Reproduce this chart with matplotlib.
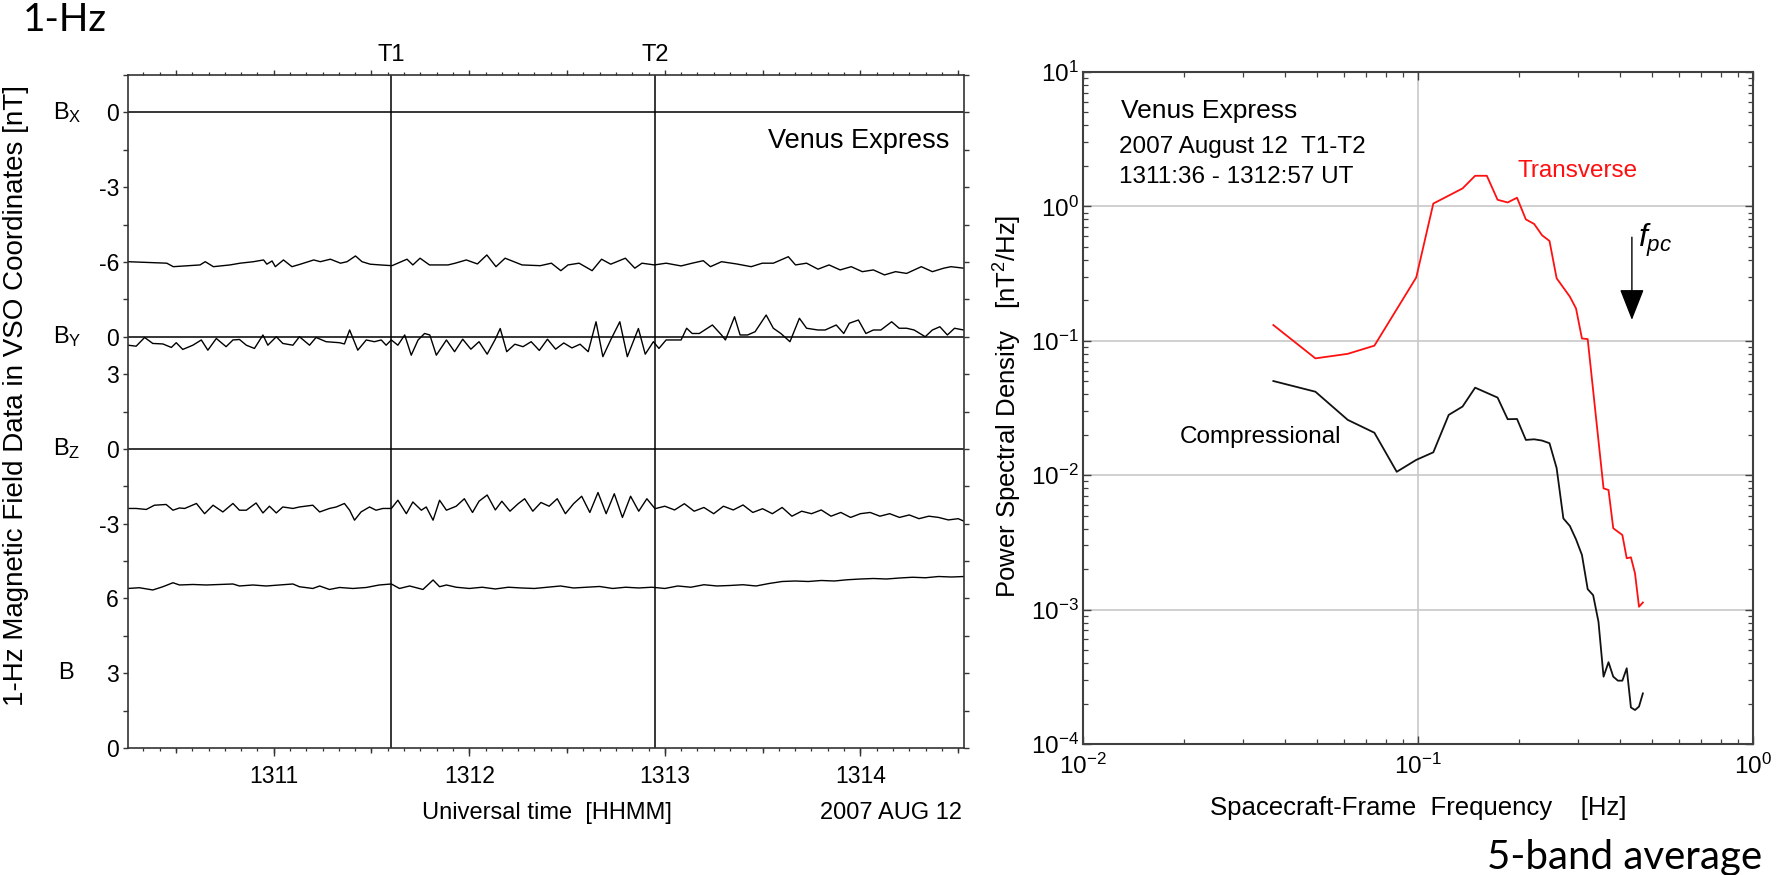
import numpy as np
import matplotlib
matplotlib.use("Agg")
import matplotlib.pyplot as plt
from matplotlib.ticker import MultipleLocator, FixedLocator, FixedFormatter, NullFormatter, LogLocator

plt.rcParams['font.family'] = ['Liberation Sans', 'DejaVu Sans']
plt.rcParams['mathtext.fontset'] = 'custom'
plt.rcParams['mathtext.rm'] = 'Liberation Sans'
plt.rcParams['mathtext.it'] = 'Liberation Sans:italic'
plt.rcParams['mathtext.default'] = 'regular'

# ---------------- data (time in seconds after 13:10:00 UT) ----------------
T1_SEC = 96.0     # 1311:36
T2_SEC = 177.0    # 1312:57
TIME_LIM = (15.3, 271.8)
time_ticks = [60, 120, 180, 240]
time_labels = ["1311", "1312", "1313", "1314"]

bx_pts = [(15.3,-5.99),(27.2,-6.05),(29.2,-6.19),(37.4,-6.12),(39.0,-5.99),(41.5,-6.19),(46.6,-6.12),
          (49.7,-6.05),(53.8,-5.99),(56.9,-5.92),(57.9,-6.09),(59.5,-5.96),(60.5,-6.19),(63.0,-5.92),
          (65.6,-6.19),(68.2,-6.09),(72.3,-5.92),(74.3,-5.99),(77.4,-5.89),(80.5,-6.05),(82.5,-5.99),
          (85.1,-5.76),(87.1,-5.99),(89.6,-6.09),(92.7,-6.12),(96.3,-6.15),(100.9,-5.89),(102.7,-6.12),
          (104.9,-5.85),(107.8,-6.12),(113.5,-6.12),(115.7,-6.05),(119.1,-5.92),(122.5,-6.08),
          (125.4,-5.72),(128.2,-6.19),(131.0,-5.85),(136.2,-6.12),(141.8,-6.15),(145.2,-6.05),
          (148.1,-6.35),(150.3,-6.12),(153.7,-6.05),(157.7,-6.35),(160.6,-5.89),(163.4,-6.09),
          (167.9,-5.85),(170.8,-6.25),(173.0,-6.05),(176.8,-6.12),(180.4,-6.05),(185.0,-6.16),
          (188.4,-6.05),(191.8,-5.95),(194.0,-6.19),(197.4,-5.99),(202.0,-6.08),(206.5,-6.19),
          (209.9,-6.05),(213.3,-6.05),(217.9,-5.79),(220.1,-6.12),(223.5,-6.05),(227.0,-6.29),
          (230.4,-6.12),(233.8,-6.32),(237.2,-6.19),(240.6,-6.39),(244.0,-6.32),(247.4,-6.52),
          (250.8,-6.39),(254.2,-6.46),(258.7,-6.19),(262.1,-6.39),(265.6,-6.25),(267.8,-6.19),(271.7,-6.25)]

by_pts = [(15.3,-0.34),(17.8,-0.38),(20.4,-0.03),(22.9,-0.27),(26.0,-0.29),(28.6,-0.43),(30.1,-0.24),
          (32.1,-0.51),(35.2,-0.34),(37.8,-0.13),(39.8,-0.54),(42.4,-0.07),(45.4,-0.40),(47.5,-0.13),
          (49.5,-0.11),(51.6,-0.34),(54.1,-0.47),(56.7,0.07),(58.2,-0.34),(60.8,0.0),(62.8,-0.27),
          (65.9,-0.34),(67.9,0.0),(71.0,-0.34),(73.0,-0.03),(76.1,-0.20),(80.2,-0.24),(81.7,-0.29),
          (83.3,0.27),(85.8,-0.54),(88.4,-0.13),(90.9,-0.20),(93.0,-0.13),(94.5,-0.34),(96.1,-0.13),
          (98.1,-0.34),(100.2,0.07),(102.2,-0.74),(104.3,-0.13),(106.3,0.13),(107.9,0.07),(109.9,-0.74),
          (113.0,-0.13),(115.5,-0.6),(118.0,-0.1),(120.5,-0.5),(123.0,-0.2),(125.5,-0.7),(128.0,-0.1),
          (129.5,0.33),(131.5,-0.6),(134.0,-0.3),(136.5,-0.4),(139.0,-0.2),(141.5,-0.55),(144.0,-0.1),
          (146.5,-0.5),(149.0,-0.25),(151.5,-0.45),(154.0,-0.3),(156.5,-0.6),(158.9,0.6),(161.0,-0.8),
          (163.5,-0.1),(166.2,0.6),(168.5,-0.8),(171.9,0.33),(174.0,-0.7),(176.5,-0.2),(178.2,-0.47),
          (180.4,-0.13),(185.0,-0.13),(186.7,0.34),(188.4,0.13),(190.6,0.13),(194.6,0.47),(197.4,0.07),
          (198.6,-0.13),(201.4,0.80),(203.1,0.07),(205.4,0.07),(207.7,0.20),(211.1,0.87),(213.3,0.34),
          (215.6,0.13),(218.4,-0.20),(221.3,0.74),(223.5,0.34),(227.0,0.27),(229.2,0.27),(232.6,0.47),
          (234.9,0.13),(236.6,0.54),(239.4,0.67),(241.7,0.13),(244.0,0.27),(246.3,0.27),(249.6,0.60),
          (251.9,0.34),(254.2,0.34),(256.5,0.27),(259.9,0.0),(262.1,0.27),(264.4,0.40),(266.7,0.07),
          (268.9,0.34),(271.7,0.27)]

bz_pts = [(15.3,-2.39),(17.8,-2.39),(20.9,-2.43),(23.4,-2.26),(27.0,-2.23),(29.1,-2.46),(31.1,-2.37),
          (32.7,-2.39),(36.3,-2.19),(38.8,-2.60),(41.4,-2.26),(44.4,-2.53),(47.5,-2.19),(49.5,-2.46),
          (51.6,-2.46),(54.6,-2.17),(56.7,-2.57),(58.7,-2.30),(60.8,-2.57),(62.8,-2.33),(65.9,-2.39),
          (67.9,-2.33),(72.0,-2.26),(74.1,-2.53),(77.1,-2.39),(79.2,-2.33),(81.7,-2.19),(83.3,-2.46),
          (84.8,-2.86),(86.8,-2.53),(89.4,-2.33),(91.4,-2.46),(93.5,-2.39),(96.1,-2.39),(98.1,-2.06),
          (100.7,-2.60),(102.7,-2.13),(105.3,-2.46),(106.8,-2.33),(108.9,-2.86),(110.9,-2.06),(113.0,-2.46),
          (116.0,-2.3),(118.5,-2.0),(121.0,-2.55),(123.0,-2.1),(125.5,-1.85),(128.0,-2.45),(130.0,-2.1),
          (132.5,-2.5),(135.0,-2.2),(137.0,-2.0),(139.5,-2.5),(142.0,-2.15),(144.5,-2.3),(147.0,-2.0),
          (149.5,-2.6),(152.0,-2.2),(154.5,-1.9),(157.0,-2.55),(159.5,-1.75),(162.0,-2.6),(164.5,-1.8),
          (167.0,-2.75),(169.5,-1.9),(172.0,-2.5),(174.5,-2.0),(177.0,-2.4),(180.0,-2.3),(183.0,-2.45),
          (186.0,-2.2),(189.0,-2.5),(192.0,-2.35),(195.0,-2.6),(198.0,-2.3),(201.0,-2.45),(204.0,-2.25),
          (207.0,-2.55),(210.0,-2.4),(213.0,-2.6),(216.0,-2.35),(219.0,-2.7),(222.0,-2.5),(225.0,-2.6),
          (228.0,-2.45),(231.0,-2.7),(234.0,-2.55),(237.0,-2.75),(240.0,-2.6),(243.0,-2.55),(246.0,-2.7),
          (249.0,-2.6),(252.0,-2.75),(255.0,-2.65),(258.0,-2.8),(261.0,-2.7),(264.0,-2.75),(267.0,-2.85),
          (270.0,-2.8),(271.8,-2.9)]

b_pts = [(15.3,6.40),(18.8,6.43),(22.9,6.34),(26.0,6.47),(29.1,6.63),(31.1,6.54),(35.2,6.56),(39.3,6.54),
         (43.4,6.56),(47.5,6.58),(49.5,6.50),(53.6,6.54),(57.7,6.50),(61.8,6.54),(63.8,6.56),(65.9,6.58),
         (67.9,6.47),(72.0,6.40),(74.1,6.50),(77.1,6.36),(80.2,6.44),(84.3,6.40),(88.4,6.44),(92.4,6.54),
         (96.1,6.58),(98.6,6.40),(101.7,6.50),(105.8,6.36),(108.9,6.74),(110.9,6.47),(113.0,6.54),
         (116.0,6.45),(120.0,6.40),(124.0,6.45),(128.0,6.38),(132.0,6.45),(136.0,6.42),(140.0,6.40),
         (144.0,6.45),(148.0,6.50),(152.0,6.42),(156.0,6.45),(160.0,6.48),(164.0,6.40),(168.0,6.45),
         (172.0,6.42),(176.0,6.45),(180.0,6.40),(184.0,6.50),(188.0,6.45),(192.0,6.55),(196.0,6.50),
         (200.0,6.52),(204.0,6.55),(208.0,6.50),(212.0,6.60),(216.0,6.68),(220.0,6.70),(224.0,6.68),
         (228.0,6.72),(232.0,6.70),(236.0,6.75),(240.0,6.78),(244.0,6.80),(248.0,6.78),(252.0,6.82),
         (256.0,6.85),(260.0,6.83),(264.0,6.88),(268.0,6.86),(271.8,6.88)]

# spectra (5-band average)
freq_tr = [0.0370, 0.0494, 0.0617, 0.0741, 0.0988, 0.1111, 0.1358, 0.1481, 0.1605, 0.1728, 0.1852,
           0.1975, 0.2099, 0.2222, 0.2346, 0.2469, 0.2593, 0.2840, 0.2963, 0.3086, 0.3210, 0.3580,
           0.3704, 0.3827, 0.4074, 0.4198, 0.4321, 0.4444, 0.4568, 0.4691]
psd_tr = [0.131, 0.074, 0.080, 0.092, 0.296, 1.05, 1.36, 1.69, 1.69, 1.12, 1.07,
          1.16, 0.80, 0.74, 0.61, 0.553, 0.292, 0.213, 0.174, 0.104, 0.103, 0.00798,
          0.00776, 0.00403, 0.00359, 0.00241, 0.00245, 0.00186, 0.00105, 0.00113]
freq_co = [0.0370, 0.0494, 0.0617, 0.0741, 0.0864, 0.0988, 0.1111, 0.1235, 0.1358, 0.1481, 0.1605,
           0.1728, 0.1852, 0.1975, 0.2099, 0.2222, 0.2346, 0.2469, 0.2593, 0.2716, 0.2840, 0.2963,
           0.3086, 0.3210, 0.3333, 0.3457, 0.3580, 0.3704, 0.3827, 0.3951, 0.4074, 0.4198, 0.4321,
           0.4444, 0.4568, 0.4691]
psd_co = [0.0502, 0.0418, 0.0258, 0.0207, 0.0106, 0.0130, 0.0148, 0.0281, 0.0324, 0.0448, 0.0410,
          0.0378, 0.0261, 0.0262, 0.0183, 0.0185, 0.0181, 0.0173, 0.0113, 0.00477, 0.00419, 0.00333,
          0.00255, 0.00142, 0.00128, 0.000813, 0.000317, 0.000406, 0.000317, 0.000296, 0.000296,
          0.000366, 0.000187, 0.000179, 0.000190, 0.000238]
F_PC = 0.435
F_PC_ARROW = (0.59, 0.143)   # PSD range spanned by the arrow

# ---------------- figure ----------------
W, H = 1783, 875
fig = plt.figure(figsize=(W / 100, H / 100), dpi=100)

def frac_box(x0, y0, x1, y1):
    return [x0 / W, 1 - y1 / H, (x1 - x0) / W, (y1 - y0) / H]

SPINE = '#333333'
# ======== left panel: stacked magnetic field components ========
ax = fig.add_axes(frac_box(128, 75, 964, 748))
ax.set_xlim(*TIME_LIM)
ax.set_ylim(0, 18)

# stacking: y = offset + value / scale
stack = {'bx': (17, 1.5), 'by': (11, 1.5), 'bz': (8, 1.5), 'b': (0, 1.5)}
for key, pts in (('bx', bx_pts), ('by', by_pts), ('bz', bz_pts), ('b', b_pts)):
    t, v = np.array(pts).T
    off, sc = stack[key]
    ax.plot(t, off + v / sc, color='black', lw=1.0)

for yy in (17, 11, 8):
    ax.axhline(yy, color='black', lw=1.1)
for tt in (T1_SEC, T2_SEC):
    ax.axvline(tt, color='black', lw=1.1)

for s in ax.spines.values():
    s.set_color(SPINE)
    s.set_linewidth(1.2)

ylab = {17: '0', 15: '-3', 13: '-6', 11: '0', 10: '3', 8: '0', 6: '-3', 4: '6', 2: '3', 0: '0'}
ax.yaxis.set_major_locator(FixedLocator(list(range(0, 19))))
ax.yaxis.set_major_formatter(FixedFormatter([ylab.get(i, '') for i in range(0, 19)]))
ax.tick_params(axis='y', which='major', direction='out', left=True, right=True,
               length=3.5, width=1.0, color=SPINE, labelsize=16.5, pad=3)

ax.set_xticks(time_ticks)
ax.set_xticklabels(time_labels)
ax.xaxis.set_minor_locator(MultipleLocator(5))
ax.tick_params(axis='x', which='major', direction='out', length=5.5, width=1.0, color=SPINE,
               labelsize=16.5, pad=7, top=False)
ax.tick_params(axis='x', which='minor', direction='out', length=2.0, width=0.9, color=SPINE, top=False)

sec_b = ax.secondary_xaxis('bottom')
sec_b.set_xticks(np.arange(30, 271, 30))
sec_b.tick_params(which='major', direction='out', length=3.5, width=1.0, color=SPINE, labelbottom=False)
sec_b.spines['bottom'].set_visible(False)

sec_t = ax.secondary_xaxis('top')
sec_t.set_xticks(np.arange(30, 271, 30))
sec_t.xaxis.set_minor_locator(MultipleLocator(5))
sec_t.tick_params(which='major', direction='out', length=3.5, width=1.0, color=SPINE, labeltop=False)
sec_t.tick_params(which='minor', direction='out', length=2.0, width=0.9, color=SPINE)
sec_t.spines['top'].set_visible(False)

xt = ax.get_xaxis_transform()
ax.text(T1_SEC, 1.03, 'T1', transform=xt, ha='center', va='center', fontsize=17)
ax.text(T2_SEC, 1.03, 'T2', transform=xt, ha='center', va='center', fontsize=17)
ax.text(0.982, 0.902, 'Venus Express', transform=ax.transAxes, ha='right', va='center', fontsize=19.5)
ax.text(0.3517, -0.097, 'Universal time  [HHMM]', transform=ax.transAxes, ha='left', va='center', fontsize=17)
ax.text(0.998, -0.097, '2007 AUG 12', transform=ax.transAxes, ha='right', va='center', fontsize=17)

comp_labels = [('B$_{X}$', 17, 53), ('B$_{Y}$', 11, 53), ('B$_{Z}$', 8, 53), ('B', 2, 58)]
for txt, yy, px in comp_labels:
    ax.annotate(txt, xy=(px / W, yy), xycoords=('figure fraction', 'data'),
                ha='left', va='center', fontsize=17)

fig.text(16 / W, 1 - 396 / H, '1-Hz Magnetic Field Data in VSO Coordinates [nT]',
         rotation=90, ha='center', va='center', fontsize=20)

# ======== right panel: power spectral density ========
ax2 = fig.add_axes(frac_box(1083, 72, 1753, 744))
ax2.set_xscale('log')
ax2.set_yscale('log')
ax2.set_xlim(1e-2, 1)
ax2.set_ylim(1e-4, 10)
ax2.grid(True, which='major', color='#c8c8c8', lw=1.2)
ax2.set_axisbelow(True)
ax2.plot(freq_tr, psd_tr, color='#ff1010', lw=1.3)
ax2.plot(freq_co, psd_co, color='#111111', lw=1.3)

for s in ax2.spines.values():
    s.set_color('#404040')
    s.set_linewidth(1.5)
ax2.xaxis.set_major_locator(LogLocator(base=10, numticks=10))
ax2.yaxis.set_major_locator(LogLocator(base=10, numticks=10))
ax2.xaxis.set_minor_locator(LogLocator(base=10, subs=np.arange(2, 10), numticks=20))
ax2.yaxis.set_minor_locator(LogLocator(base=10, subs=np.arange(2, 10), numticks=20))
ax2.xaxis.set_minor_formatter(NullFormatter())
ax2.yaxis.set_minor_formatter(NullFormatter())
ax2.tick_params(which='both', direction='in', top=True, right=True, color='#404040')
ax2.tick_params(which='major', length=6, width=1.0, labelsize=17.5)
ax2.tick_params(axis='x', which='major', pad=7)
ax2.tick_params(axis='y', which='major', pad=3)
ax2.tick_params(which='minor', length=3.5, width=0.9)

ax2.text(0.0567, 0.942, 'Venus Express', transform=ax2.transAxes, ha='left', va='center', fontsize=19)
ax2.text(0.0537, 0.888, '2007 August 12  T1-T2', transform=ax2.transAxes, ha='left', va='center', fontsize=17.5)
ax2.text(0.0537, 0.844, '1311:36 - 1312:57 UT', transform=ax2.transAxes, ha='left', va='center', fontsize=17.5)
ax2.text(0.649, 0.853, 'Transverse', transform=ax2.transAxes, ha='left', va='center', fontsize=17.5, color='#ff1010')
ax2.text(0.1448, 0.457, 'Compressional', transform=ax2.transAxes, ha='left', va='center', fontsize=17.5)

ax2.annotate('', xy=(F_PC, F_PC_ARROW[1]), xytext=(F_PC, F_PC_ARROW[0]),
             arrowprops=dict(arrowstyle='-|>,head_length=1.4,head_width=0.55', color='black',
                             lw=1.0, shrinkA=0, shrinkB=0, mutation_scale=14))
ax2.text(F_PC * 1.045, 0.56, r'$\mathit{f_{pc}}$', ha='left', va='center', fontsize=23)

ax2.set_xlabel('Spacecraft-Frame  Frequency    [Hz]', fontsize=18.5, labelpad=12)
fig.text(1008 / W, 1 - 406 / H, 'Power Spectral Density   [nT$^2$/Hz]',
         rotation=90, ha='center', va='center', fontsize=18.5)

fig.text(23 / W, 1 - 20 / H, '1-Hz', ha='left', va='center', fontsize=28, family='Lato')
fig.text(1762 / W, 1 - 857 / H, '5-band average', ha='right', va='center', fontsize=29, family='Lato')

fig.savefig('out.png', dpi=100)
